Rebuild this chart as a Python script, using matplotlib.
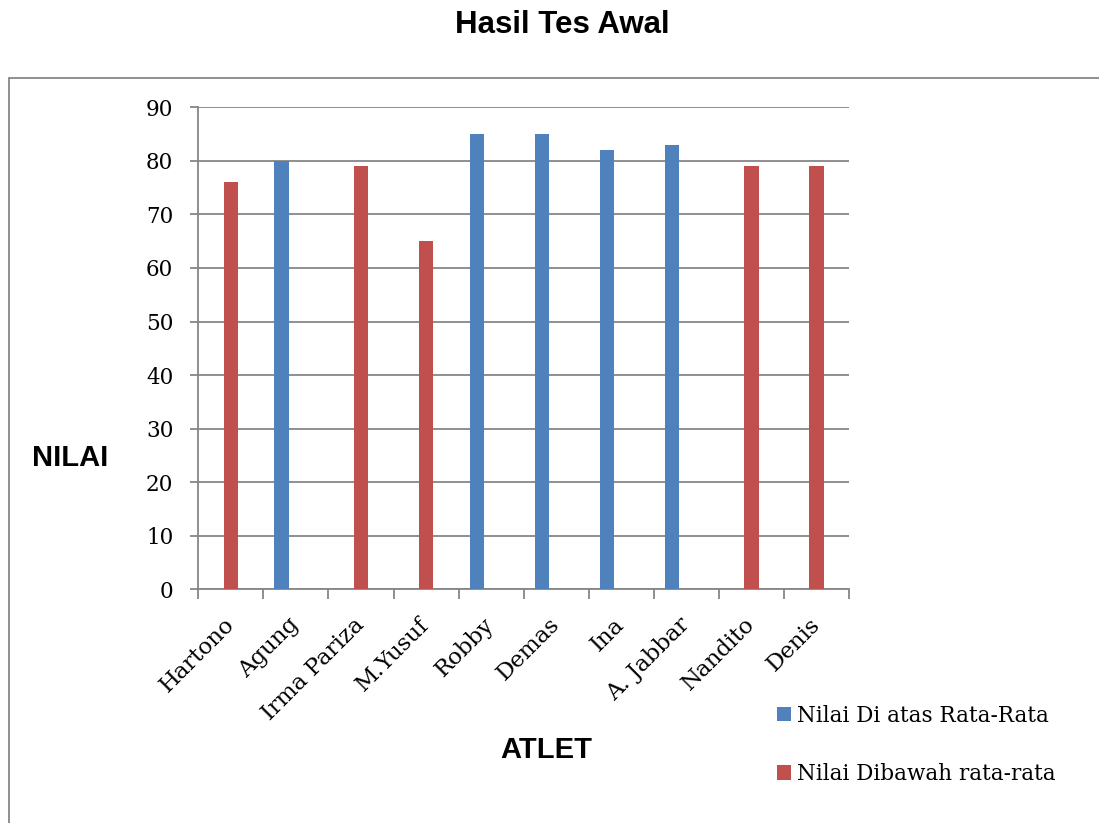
import numpy as np
import matplotlib
matplotlib.use("Agg")
import matplotlib.pyplot as plt
from matplotlib.patches import Rectangle

atlet = ["Hartono", "Agung", "Irma Pariza", "M.Yusuf", "Robby",
         "Demas", "Ina", "A. Jabbar", "Nandito", "Denis"]
nilai_atas = [np.nan, 80, np.nan, np.nan, 85, 85, 82, 83, np.nan, np.nan]
nilai_bawah = [76, np.nan, 79, 65, np.nan, np.nan, np.nan, np.nan, 79, 79]
label_atas = "Nilai Di atas Rata-Rata"
label_bawah = "Nilai Dibawah rata-rata"
y_ticks = [0, 10, 20, 30, 40, 50, 60, 70, 80, 90]

BLUE = "#4F81BD"
RED = "#C0504D"
GRAY = "#868686"
SERIF = ["DejaVu Serif"]
SANS = ["Liberation Sans", "DejaVu Sans"]

W, H = 1099, 823
fig = plt.figure(figsize=(W / 100, H / 100), dpi=100)

# chart-area frame
fig.patches.append(Rectangle((8.5 / W, -0.1), 1.2, 1 - 78 / H + 0.1,
                             transform=fig.transFigure, fill=False,
                             edgecolor=GRAY, linewidth=1.3, zorder=0))

ax = fig.add_axes([198.3 / W, 1 - 589.3 / H, (849 - 198.3) / W, (589.3 - 107.3) / H])

x = np.arange(len(atlet))
bw = 0.22
ax.bar(x - bw, nilai_atas, width=bw, color=BLUE, label=label_atas, zorder=3)
ax.bar(x, nilai_bawah, width=bw, color=RED, label=label_bawah, zorder=3)

ax.set_xlim(-0.5, len(atlet) - 0.5)
ax.set_ylim(0, 90)
ax.set_yticks(y_ticks)
ax.yaxis.grid(True, color=GRAY, linewidth=1.3, zorder=0)
ax.set_axisbelow(True)

for s in ("top", "right"):
    ax.spines[s].set_visible(False)
for s in ("left", "bottom"):
    ax.spines[s].set_color(GRAY)
    ax.spines[s].set_linewidth(1.3)

ax.tick_params(axis="y", length=6, width=1.3, color=GRAY, pad=12,
               labelsize=15.5, labelcolor="black")
for lbl in ax.get_yticklabels():
    lbl.set_fontfamily(SERIF)

# category boundaries carry the tick marks, centres carry the names
ax.set_xticks(np.arange(len(atlet) + 1) - 0.5)
ax.set_xticklabels([])
ax.tick_params(axis="x", which="major", length=7, width=1.3, color=GRAY)
ax.set_xticks(x, minor=True)
ax.set_xticklabels(atlet, minor=True, rotation=45, ha="right", va="center",
                   rotation_mode="anchor", fontsize=16.5, family=SERIF)
ax.tick_params(axis="x", which="minor", length=0, pad=23)

fig.text(562 / W, 1 - 25 / H, "Hasil Tes Awal", ha="center", va="center",
         fontsize=22.5, fontweight="bold", family=SANS)
fig.text(546 / W, 1 - 750 / H, "ATLET", ha="center", va="center",
         fontsize=21, fontweight="bold", family=SANS)
fig.text(70 / W, 1 - 458 / H, "NILAI", ha="center", va="center",
         fontsize=21, fontweight="bold", family=SANS)

leg = fig.legend(loc="upper left", bbox_to_anchor=(768 / W, 1 - 696 / H),
                 frameon=False, prop={"family": SERIF, "size": 15.5},
                 handlelength=0.65, handleheight=0.65, handletextpad=0.28,
                 labelspacing=1.7, borderaxespad=0)

fig.savefig("out.png", dpi=100)
